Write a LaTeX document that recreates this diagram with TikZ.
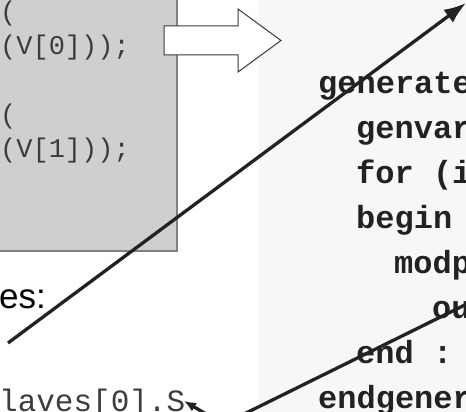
\documentclass[tikz,border=0pt]{standalone}
\usepackage{xcolor}
\usepackage{fontspec}
\usepackage{tikz}
\usetikzlibrary{shapes,arrows.meta,positioning}
\setmainfont{Liberation Sans}
\newfontfamily\codefont{Liberation Mono}
\definecolor{slidegray}{RGB}{207,207,207}
\definecolor{slideedge}{RGB}{128,128,128}
\definecolor{codebg}{RGB}{247,247,247}
\definecolor{inkdark}{RGB}{34,34,34}
\definecolor{codegray}{RGB}{60,60,60}

\begin{document}
\begin{tikzpicture}[x=1pt, y=-1pt]
    \tikzstyle{plaincode} = [inner sep=0, anchor=base west, text=codegray, font=\codefont\fontsize{27}{27}\selectfont]
    \tikzstyle{bigcode} = [inner sep=0, anchor=base west, text=codegray, font=\codefont\fontsize{31}{31}\selectfont]
    \tikzstyle{boldcode} = [inner sep=0, anchor=base west, text=inkdark, font=\codefont\bfseries\fontsize{32}{32}\selectfont]
    \tikzstyle{pointer} = [line width=3.3pt, inkdark, -{Latex[length=22pt,width=16pt]}]
    \tikzstyle{smallpointer} = [line width=3.3pt, inkdark, -{Latex[length=12pt,width=10pt]}]
    \tikzstyle{wire} = [line width=3.3pt, inkdark]

    \useasboundingbox (0,0) rectangle (466,412);
    \fill [codebg] (259,0) rectangle (466,412);
    \filldraw [fill=slidegray, draw=slideedge, line width=2.5pt] (-20,-20) rectangle (177,251);

    \node (open0) [plaincode] at (0,21) {(};
    \node (port0) [plaincode] at (0,55) {(V[0]));};
    \node (open1) [plaincode] at (0,123) {(};
    \node (port1) [plaincode] at (0,157) {(V[1]));};

    \filldraw [fill=white, draw=inkdark!90, line width=1pt] (164,26) -- (238,26) -- (238,9) -- (281,40.5) -- (238,72) -- (238,55) -- (164,55) -- cycle;

    \node (modport) [boldcode] at (318,-6) {modport};
    \node (gen) [boldcode] at (318,93) {generate};
    \node (genvar) [boldcode] at (356,138) {genvar};
    \node (forloop) [boldcode] at (356,183) {for (i};
    \node (beginblk) [boldcode] at (356,228) {begin};
    \node (modinst) [boldcode] at (394,273) {modp};
    \node (outport) [boldcode] at (432,318) {ou};
    \node (endblk) [boldcode] at (356,363) {end :};
    \node (endgen) [boldcode] at (318,408) {endgener};

    \node (names) [inner sep=0, anchor=base east, text=black, font=\fontsize{35}{35}\selectfont] at (46,308) {nes:};
    \node (slaves) [bigcode] at (-1,411) {laves[0].S};

    \coordinate (tailA) at (8,343);
    \coordinate (tipA) at (466,3);
    \coordinate (tailB) at (240,416);
    \coordinate (headB) at (480,297.5);
    \coordinate (tailC) at (230,428);
    \coordinate (tipC) at (184,401);

    \draw [pointer] (tailA) -- (tipA);
    \draw [wire] (tailB) -- (headB);
    \draw [smallpointer] (tailC) -- (tipC);
\end{tikzpicture}
\end{document}
